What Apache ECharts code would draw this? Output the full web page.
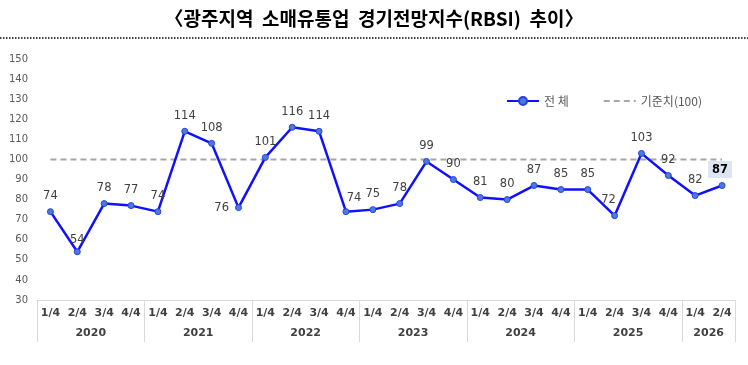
<!DOCTYPE html>
<html><head><meta charset="utf-8">
<script src="https://cdn.jsdelivr.net/npm/echarts@6/dist/echarts.min.js"></script>
<style>html,body{margin:0;padding:0;background:#fff}#c{width:748px;height:365px}</style>
</head><body><div id="c"></div>
<script>
const quarters = ['1/4','2/4','3/4','4/4','1/4','2/4','3/4','4/4','1/4','2/4','3/4','4/4','1/4','2/4','3/4','4/4','1/4','2/4','3/4','4/4','1/4','2/4','3/4','4/4','1/4','2/4'];
const years = ['2020','2021','2022','2023','2024','2025','2026'];
const yearQuarterCounts = [4,4,4,4,4,4,2];
const rbsi = [74,54,78,77, 74,114,108,76, 101,116,114,74, 75,78,99,90, 81,80,87,85, 85,72,103,92, 82,87];
const baseline = 100;
const yTicks = {min:30, max:150, interval:10};

// year label centres & boundaries (in quarter units)
const yearCentres = {}; const boundaries = [0];
let acc = 0;
yearQuarterCounts.forEach((n,i)=>{ yearCentres[acc + n/2] = years[i]; acc += n; boundaries.push(acc); });

const labelOverrides = {
  1: {distance: 2},
  7: {position: 'left', distance: 6},
  11: {position: 'top', offset: [8, 2]},
  21: {position: 'top', offset: [-6, 0]},
  25: {fontWeight: 'bold', backgroundColor: '#dce6f2', padding: [3, 4, 2, 4], distance: 4, offset: [-2, 0], color: '#000'}
};
const lineData = rbsi.map((v,i)=> labelOverrides[i] ? {value: v, label: labelOverrides[i]} : v);

const chart = echarts.init(document.getElementById('c'));
chart.setOption({
  animation: false,
  title: {
    text: '〈광주지역  소매유통업  경기전망지수(RBSI)  추이〉',
    left: 'center', top: 4,
    textStyle: {fontFamily: 'Noto Sans CJK KR', fontWeight: 'bold', fontSize: 19, color: '#000'}
  },
  graphic: [{
    type: 'line', shape: {x1: 0, y1: 38, x2: 748, y2: 38},
    style: {stroke: '#000', lineWidth: 1.5, lineDash: [1.5, 1.5]}
  }],
  legend: {
    left: 501, top: 90, itemWidth: 32, itemHeight: 10, itemGap: 34,
    textStyle: {fontFamily: 'Noto Sans CJK KR', fontSize: 12, color: '#595959'},
    data: ['전 체', {name: '기준치(100)', itemStyle: {opacity: 0}}]
  },
  grid: {left: 37, right: 12.5, top: 59, bottom: 65},
  xAxis: [{
    type: 'category', data: quarters, boundaryGap: true,
    axisLine: {show: true, lineStyle: {color: '#d9d9d9', width: 1}},
    axisTick: {show: true, length: 42, interval: (i)=> boundaries.includes(i), lineStyle: {color: '#d9d9d9'}},
    axisLabel: {interval: 0, margin: 8, fontFamily: 'DejaVu Sans', fontWeight: 'bold', fontSize: 11, color: '#404040'}
  }, {
    type: 'value', position: 'bottom', min: 0, max: quarters.length, interval: 1,
    axisLine: {show: false}, axisTick: {show: false}, splitLine: {show: false},
    axisLabel: {show: true, margin: 28, showMinLabel: true, showMaxLabel: true,
      formatter: (v)=> yearCentres[v] || '',
      fontFamily: 'DejaVu Sans', fontWeight: 'bold', fontSize: 11, color: '#404040'}
  }],
  yAxis: {
    type: 'value', min: yTicks.min, max: yTicks.max, interval: yTicks.interval,
    axisLine: {show: false}, axisTick: {show: false}, splitLine: {show: false},
    axisLabel: {margin: 9, fontFamily: 'DejaVu Sans', fontSize: 10, color: '#595959'}
  },
  series: [{
    name: '전 체', type: 'line', data: lineData,
    symbol: 'circle', symbolSize: 6,
    lineStyle: {color: '#1010ff', width: 2.5},
    itemStyle: {color: '#4a7bd8', borderColor: '#2a3fe0', borderWidth: 1},
    label: {show: true, position: 'top', distance: 6, fontFamily: 'DejaVu Sans', fontSize: 11.5, color: '#404040'},
    z: 3
  }, {
    name: '기준치(100)', type: 'line', data: quarters.map(()=>baseline),
    symbol: 'none', silent: true,
    lineStyle: {color: '#a6a6a6', width: 2, type: [6, 4]},
    itemStyle: {color: '#a6a6a6'},
    z: 2
  }]
});
</script></body></html>
